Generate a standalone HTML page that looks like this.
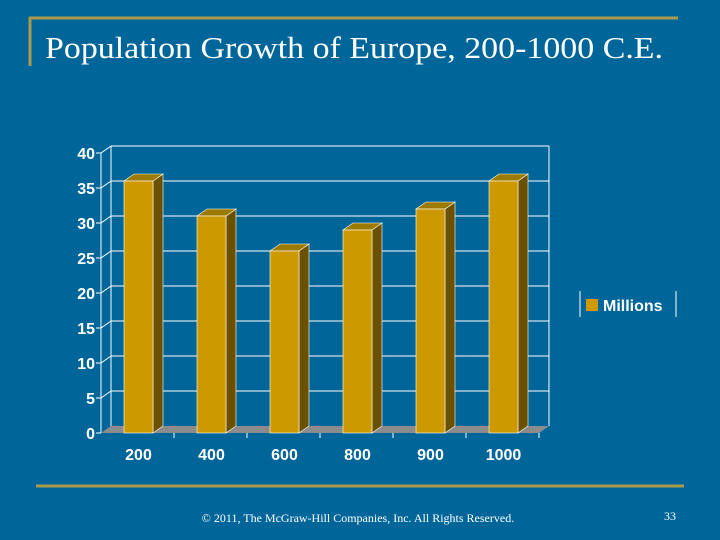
<!DOCTYPE html>
<html><head><meta charset="utf-8"><style>
html,body{margin:0;padding:0;background:#006699;}
svg{display:block;}
</style></head><body>
<svg id="c" width="720" height="540" xmlns="http://www.w3.org/2000/svg">
<rect width="720" height="540" fill="#006699"/>
<line x1="29" y1="18" x2="678" y2="18" stroke="#a89a4a" stroke-width="3"/>
<line x1="30" y1="17" x2="30" y2="66" stroke="#a89a4a" stroke-width="3"/>
<text x="45" y="58" font-family="Liberation Serif, serif" font-size="31" fill="#fff" textLength="618" lengthAdjust="spacingAndGlyphs">Population Growth of Europe, 200-1000 C.E.</text>
<g id="plot"></g>
<g>
<line x1="580" y1="291" x2="580" y2="317" stroke="#fff" stroke-width="1"/>
<line x1="676" y1="291" x2="676" y2="317" stroke="#fff" stroke-width="1"/>
<rect x="586" y="299" width="12" height="12" fill="#cc9900"/>
<text x="603" y="311" font-family="Liberation Sans, sans-serif" font-weight="bold" font-size="16" fill="#fff">Millions</text>
</g>
<line x1="36" y1="486" x2="684" y2="486" stroke="#a89a4a" stroke-width="3"/>
<text x="358" y="522" text-anchor="middle" font-family="Liberation Serif, serif" font-size="12" fill="#fff">© 2011, The McGraw-Hill Companies, Inc. All Rights Reserved.</text>
<text x="670" y="520" text-anchor="middle" font-family="Liberation Serif, serif" font-size="12" fill="#fff">33</text>
</svg>
<script>
const categories = ["200","400","600","800","900","1000"];
const values = [36,31,26,29,32,36];
const yTicks = [0,5,10,15,20,25,30,35,40];

const NS="http://www.w3.org/2000/svg";
const g=document.getElementById('plot');
const x0=101,x1=539,y0=433,yTop=153,dx=10,dy=7,yMax=40;
const y=v=>y0-(v/yMax)*(y0-yTop);
const band=(x1-x0)/categories.length;
function mk(t,a){const e=document.createElementNS(NS,t);for(const k in a)e.setAttribute(k,a[k]);g.appendChild(e);return e;}
// back wall gridlines
yTicks.forEach(v=>{
  if(v>0){const l=mk('line',{x1:x0+dx,y1:y(v)-dy,x2:x1+dx,y2:y(v)-dy,stroke:'#fff','stroke-width':1});
  
  
  const s=mk('line',{x1:x0,y1:y(v),x2:x0+dx,y2:y(v)-dy,stroke:'#fff','stroke-width':1});
  
  }
  const t=mk('line',{x1:x0-5,y1:y(v),x2:x0,y2:y(v),stroke:'#fff'});
  
  
  const tx=mk('text',{x:x0-6,y:y(v)+6,'text-anchor':'end','font-family':'Liberation Sans, sans-serif','font-weight':'bold','font-size':'16',fill:'#fff'});
  tx.textContent=v;
  
  
});
// walls
const bw=mk('line',{x1:x1+dx,y1:y(0)-dy,x2:x1+dx,y2:y(yMax)-dy,stroke:'#fff'});


const lw=mk('line',{x1:x0+dx,y1:y(0)-dy,x2:x0+dx,y2:y(yMax)-dy,stroke:'#fff'});


const ya=mk('line',{x1:x0,y1:y(0),x2:x0,y2:y(yMax),stroke:'#fff'});


// floor
const fl=mk('polygon',{points:`${x0},${y0} ${x1},${y0} ${x1+dx},${y0-dy} ${x0+dx},${y0-dy}`,fill:'#8c8c8c'});


// bars
categories.forEach((c,i)=>{
  const bx=x0+band*i+23,w=29,top=y(values[i]);
  const side=mk('polygon',{points:`${bx+w},${y0} ${bx+w},${top} ${bx+w+dx},${top-dy} ${bx+w+dx},${y0-dy}`,fill:'#6b5000',stroke:'#fff','stroke-width':0.6});
  
  
  const tp=mk('polygon',{points:`${bx},${top} ${bx+w},${top} ${bx+w+dx},${top-dy} ${bx+dx},${top-dy}`,fill:'#9c7a00',stroke:'#fff','stroke-width':0.6});
  
  
  const fr=mk('rect',{x:bx,y:top,width:w,height:y0-top,fill:'#cc9900',stroke:'#fff','stroke-width':0.6});
  
  
  const tk=mk('line',{x1:x0+band*(i+1),y1:y0,x2:x0+band*(i+1),y2:y0+5,stroke:'#fff'});
  
  
  const lb=mk('text',{x:bx+w/2,y:460,'text-anchor':'middle','font-family':'Liberation Sans, sans-serif','font-weight':'bold','font-size':'16',fill:'#fff'});
  lb.textContent=c;
  
  
});
</script>
</body></html>
